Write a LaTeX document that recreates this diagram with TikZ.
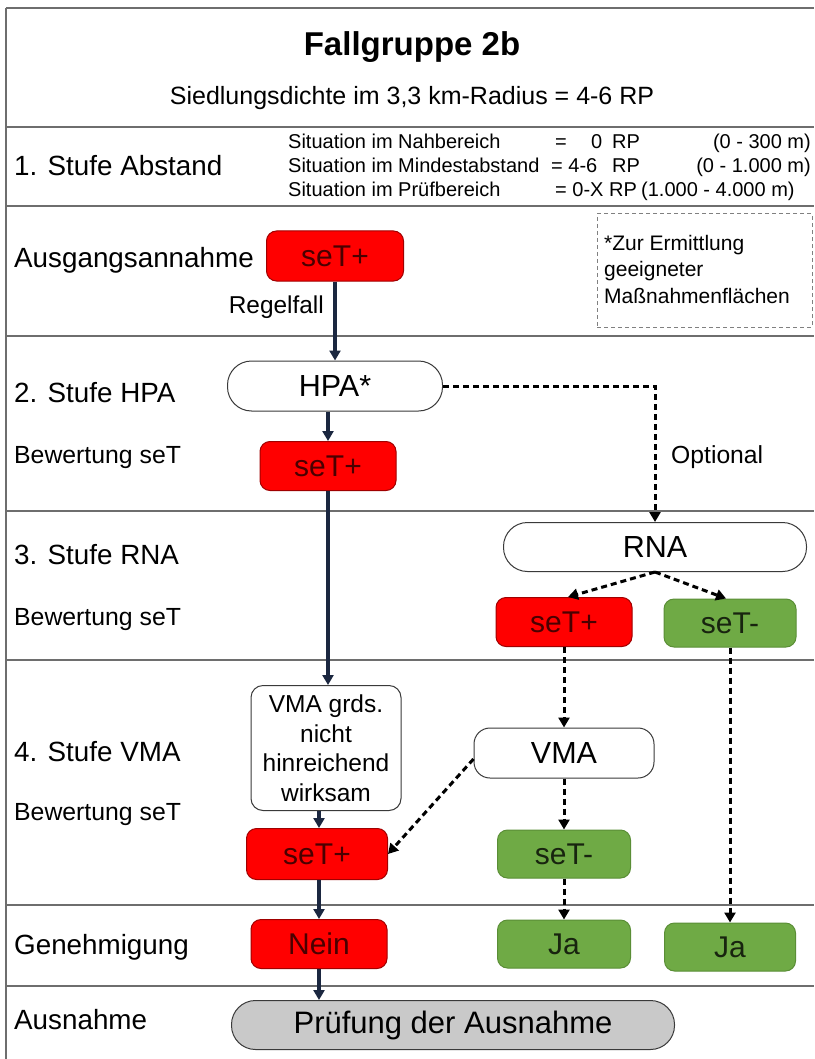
\documentclass[tikz,border=0pt]{standalone}
\usepackage{fontspec}
\setmainfont{Liberation Sans}
\usetikzlibrary{arrows.meta}

\definecolor{redfill}{HTML}{FF0000}
\definecolor{redborder}{HTML}{A00000}
\definecolor{redtext}{HTML}{4A0000}
\definecolor{greenfill}{HTML}{6FAA45}
\definecolor{greenborder}{HTML}{5A8E36}
\definecolor{greentext}{HTML}{18240F}
\definecolor{grayfill}{HTML}{C9C9C9}
\definecolor{nodeline}{HTML}{3A3A3A}
\definecolor{sepline}{HTML}{6E6E6E}
\definecolor{navy}{HTML}{1B2740}

\newcommand{\fsz}[2]{\fontsize{#1}{#2}\selectfont}

\tikzset{
  sep/.style={draw=sepline, line width=2pt},
  lbl/.style={anchor=base west, inner sep=0pt, font=\fsz{27.8}{32}},
  sublbl/.style={anchor=base west, inner sep=0pt, font=\fsz{24.8}{29}},
  small/.style={inner sep=0pt, font=\fsz{20}{24}},
  box/.style={inner sep=0pt, align=center, line width=1pt},
  redbox/.style={box, rounded corners=10pt, fill=redfill, draw=redborder,
    text=redtext, minimum width=136pt, minimum height=49pt, font=\fsz{30}{34}},
  greenbox/.style={box, rounded corners=10pt, fill=greenfill, draw=greenborder,
    text=greentext, minimum width=132pt, minimum height=48pt, font=\fsz{30}{34}},
  stadium/.style={box, rounded corners=24pt, fill=white, draw=nodeline,
    minimum height=50pt, font=\fsz{30.5}{34}},
  solidarrow/.style={draw=navy, line width=3.5pt,
    -{Triangle[length=10pt,width=11pt]}},
  dasharrow/.style={draw=black, line width=3pt, dash pattern=on 6pt off 4pt,
    -{Triangle[length=10pt,width=11pt]}},
}

\begin{document}
\begin{tikzpicture}[x=1pt, y=-1pt]
\useasboundingbox (0,0) rectangle (814,1059);
\fill[white] (0,0) rectangle (814,1059);

% frame and row separators
\draw[sep] (6,8) -- (814,8);
\draw[sep] (6,8) -- (6,1059);
\foreach \yy in {127,206,336,511,660,905,986}
  \draw[sep] (6,\yy) -- (814,\yy);

% header
\node[inner sep=0pt, anchor=base, font=\bfseries\fsz{33}{38}] (title) at (412,56) {Fallgruppe 2b};
\node[inner sep=0pt, anchor=base, font=\fsz{25}{30}] (subtitle) at (412,105)
  {Siedlungsdichte im 3,3 km-Radius = 4-6 RP};

% stage 1: distances
\node[lbl] (l1) at (14,176) {1. Stufe Abstand};
\node[small, anchor=base west] (d1a) at (288,149) {Situation im Nahbereich};
\node[small, anchor=base west] (d2a) at (288,173) {Situation im Mindestabstand};
\node[small, anchor=base west] (d3a) at (288,197) {Situation im Prüfbereich};
\node[small, anchor=base west] (d1b) at (555,149) {=};
\node[small, anchor=base west] (d1c) at (591,149) {0};
\node[small, anchor=base west] (d1d) at (612,149) {RP};
\node[small, anchor=base west] (d2b) at (551,173) {= 4-6};
\node[small, anchor=base west] (d2d) at (612,173) {RP};
\node[small, anchor=base west] (d3b) at (555,197) {= 0-X RP};
\node[small, anchor=base east] (d1e) at (811,149) {(0 - 300 m)};
\node[small, anchor=base east] (d2e) at (811,173) {(0 - 1.000 m)};
\node[small, anchor=base west] (d3e) at (641,197) {(1.000 - 4.000 m)};

% row labels
\node[lbl] (l2) at (14,267) {Ausgangsannahme};
\node[lbl] (l3) at (14,402) {2. Stufe HPA};
\node[sublbl] (l3b) at (14,463) {Bewertung seT};
\node[lbl] (l4) at (14,564) {3. Stufe RNA};
\node[sublbl] (l4b) at (14,625) {Bewertung seT};
\node[lbl] (l5) at (14,761) {4. Stufe VMA};
\node[sublbl] (l5b) at (14,820) {Bewertung seT};
\node[lbl] (l6) at (14,954) {Genehmigung};
\node[lbl] (l7) at (14,1029) {Ausnahme};

% footnote box
\node[draw=gray, line width=1pt, dash pattern=on 4pt off 3pt,
  minimum width=215pt, minimum height=113pt, inner sep=0pt] (note) at (704.5,270.5) {};
\node[anchor=base west, align=left, inner sep=0pt, font=\fsz{21}{26.5}] (notetext)
  at (604,303) {*Zur Ermittlung\\geeigneter\\Maßnahmenflächen};

% flow nodes
\node[redbox, minimum width=137pt, minimum height=50pt] (s1) at (335,256) {seT+};
\node[stadium, minimum width=215pt] (hpa) at (335,386) {HPA*};
\node[redbox] (s2) at (328,466) {seT+};
\node[stadium, minimum width=303pt, minimum height=49pt] (rna) at (655,547) {RNA};
\node[redbox] (s3) at (564,622) {seT+};
\node[greenbox] (m3) at (730,623) {seT-};
\node[box, rounded corners=12pt, fill=white, draw=nodeline, minimum width=150pt,
  minimum height=125pt, font=\fsz{24.5}{29.5}] (vmag) at (326,748)
  {VMA grds.\\nicht\\hinreichend\\wirksam};
\node[box, rounded corners=16pt, fill=white, draw=nodeline, minimum width=180pt,
  minimum height=50pt, font=\fsz{30.5}{34}] (vma) at (564,753) {VMA};
\node[redbox, minimum width=141pt, minimum height=51pt] (s4) at (317,854) {seT+};
\node[greenbox, minimum width=133pt] (m4) at (564,854) {seT-};
\node[redbox] (nein) at (319,944) {Nein};
\node[greenbox, minimum width=133pt] (ja1) at (564,944) {Ja};
\node[greenbox, minimum width=131pt] (ja2) at (730,947) {Ja};
\node[stadium, fill=grayfill, minimum width=443pt, minimum height=49pt, font=\fsz{31}{34}]
  (pruef) at (453,1025) {Prüfung der Ausnahme};

% regular path
\draw[solidarrow] (s1.south) -- (hpa.north);
\node[inner sep=0pt, anchor=base east, font=\fsz{24.4}{28}] (regel) at (324,313) {Regelfall};
\draw[solidarrow] (hpa.south -| s2.north) -- (s2.north);
\draw[solidarrow] (s2.south) -- (s2.south |- vmag.north);
\draw[solidarrow] (vmag.south -| 319,0) -- (319,0 |- s4.north);
\draw[solidarrow] (319,0 |- s4.south) -- (nein.north);
\draw[solidarrow] (nein.south) -- (nein.south |- pruef.north);

% optional path
\draw[dasharrow] (hpa.east) -- (hpa.east -| rna.north) -- (rna.north);
\node[inner sep=0pt, anchor=base west, font=\fsz{24.7}{28}] (opt) at (671,463) {Optional};
\draw[dasharrow] (rna.south) -- (s3.north east -| 568,0);
\draw[dasharrow] (rna.south) -- (m3.north west -| 726,0);
\draw[dasharrow] (s3.south) -- (vma.north);
\draw[dasharrow] (m3.south) -- (m3.south |- ja2.north);
\draw[dasharrow] (vma.west) ++(0,6) -- (s4.east);
\draw[dasharrow] (vma.south) -- (m4.north);
\draw[dasharrow] (m4.south) -- (ja1.north);
\end{tikzpicture}
\end{document}
